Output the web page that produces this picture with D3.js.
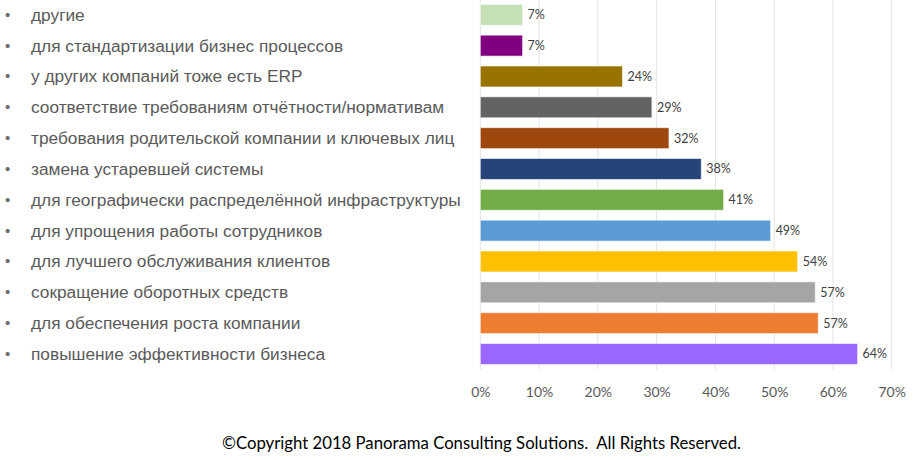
<!DOCTYPE html>
<html><head><meta charset="utf-8">
<script src="https://cdn.jsdelivr.net/npm/d3@7"></script>
<style>body{margin:0;background:#fff}svg{display:block}</style>
</head><body>
<svg id="c" width="919" height="460"></svg>
<script>
const categories = [
  "другие",
  "для стандартизации бизнес процессов",
  "у других компаний тоже есть ERP",
  "соответствие требованиям отчётности/нормативам",
  "требования родительской компании и ключевых лиц",
  "замена устаревшей системы",
  "для географически распределённой инфраструктуры",
  "для упрощения работы сотрудников",
  "для лучшего обслуживания клиентов",
  "сокращение оборотных средств",
  "для обеспечения роста компании",
  "повышение эффективности бизнеса"
];
const values = [7.2, 7.2, 24.2, 29.2, 32.1, 37.6, 41.4, 49.4, 54.0, 57.0, 57.5, 64.2];
const valueLabels = ["7%", "7%", "24%", "29%", "32%", "38%", "41%", "49%", "54%", "57%", "57%", "64%"];
const colors = ["#c5e0b4", "#800080", "#997300", "#636363", "#9e480e", "#264478", "#70ad47", "#5b9bd5", "#ffc000", "#a5a5a5", "#ed7d31", "#9966ff"];
const ticks = [0, 10, 20, 30, 40, 50, 60, 70];
const copyright = "©Copyright 2018 Panorama Consulting Solutions.  All Rights Reserved.";

const svg = d3.select("#c");
const x = d3.scaleLinear().domain([0, 70]).range([480.3, 891.7]);
const y = d3.scaleBand().domain(categories).range([-0.6, 369.4]).paddingInner(0.32).paddingOuter(0.16);

// gridlines
svg.append("g").selectAll("line").data(ticks).join("line")
  .attr("x1", d => x(d)).attr("x2", d => x(d))
  .attr("y1", 0).attr("y2", 369.4)
  .attr("stroke", "#e3e3e3").attr("stroke-width", 1);

// axis labels
const axis = d3.axisBottom(x).tickValues(ticks).tickFormat(d => d + "%").tickSize(0).tickPadding(0);
const ag = svg.append("g").attr("transform", "translate(0,397)").call(axis);
ag.select(".domain").remove();
ag.selectAll("text").attr("dy", 0).attr("fill", "#595959")
  .style("font-family", "Lato, 'Open Sans', sans-serif").style("font-size", "14px");

// bars
const bh = y.bandwidth();
svg.append("g").selectAll("rect").data(categories).join("rect")
  .attr("x", x(0)).attr("y", d => y(d))
  .attr("width", (d, i) => x(values[i]) - x(0))
  .attr("height", bh)
  .attr("fill", (d, i) => colors[i])
  .attr("stroke", "rgba(255,255,255,0.6)").attr("stroke-width", 1);

// value labels
svg.append("g").selectAll("text").data(categories).join("text")
  .attr("x", (d, i) => x(values[i]) + 5)
  .attr("y", d => y(d) + bh / 2 + 4.5)
  .attr("fill", "#404040")
  .style("font-family", "Lato, 'Open Sans', sans-serif").style("font-size", "12.5px")
  .text((d, i) => valueLabels[i]);

// category labels with bullets
const lg = svg.append("g");
lg.selectAll("text.b").data(categories).join("text").attr("class", "b")
  .attr("x", 5).attr("y", d => y(d) + bh / 2 + 5)
  .attr("fill", "#6a6a6a")
  .style("font-family", "'Liberation Sans', Arial, sans-serif").style("font-size", "15px")
  .text("•");
lg.selectAll("text.l").data(categories).join("text").attr("class", "l")
  .attr("x", 31).attr("y", d => y(d) + bh / 2 + 6)
  .attr("fill", "#5a5a5a")
  .style("font-family", "'Liberation Sans', Arial, sans-serif").style("font-size", "17.3px")
  .text(d => d);

// copyright
svg.append("text")
  .attr("x", 222).attr("y", 449)
  .attr("fill", "#000")
  .attr("textLength", 519).attr("lengthAdjust", "spacingAndGlyphs")
  .style("font-family", "Lato, 'Open Sans', sans-serif").style("font-size", "17.5px")
  .style("white-space", "pre")
  .text(copyright);
</script>
</body></html>
